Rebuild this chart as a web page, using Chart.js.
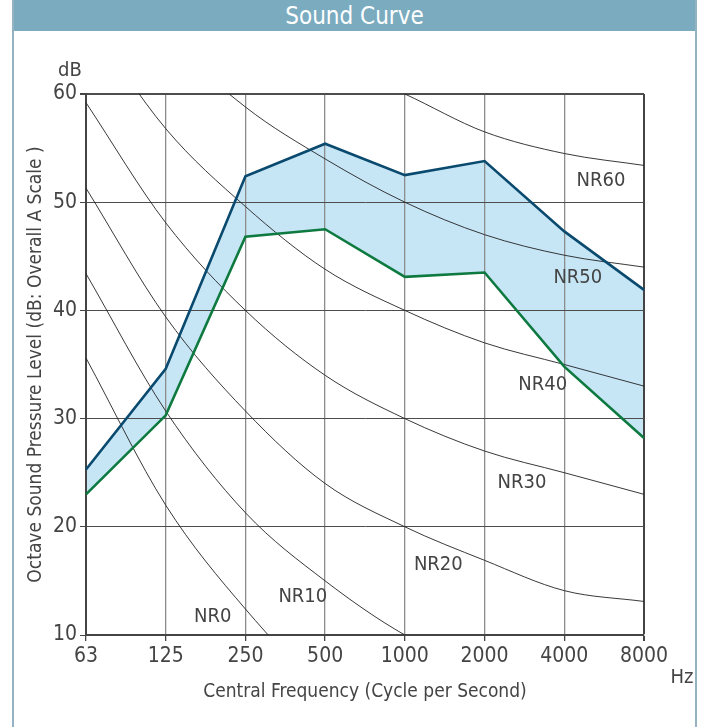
<!DOCTYPE html>
<html>
<head>
<meta charset="utf-8">
<title>Sound Curve</title>
<script src="https://cdn.jsdelivr.net/npm/chart.js@4/dist/chart.umd.min.js"></script>
<style>
  html, body { margin: 0; padding: 0; background: #fff; }
  body { width: 701px; height: 727px; position: relative; overflow: hidden;
         font-family: "Liberation Sans Narrow", "DejaVu Sans Condensed", sans-serif; }
  #frame { position: absolute; left: 12px; top: 0; width: 681px; height: 727px;
           border-left: 2px solid #93b3c2; border-right: 2px solid #93b3c2; }
  #bar { height: 31px; background: #7aabbf; color: #fff; text-align: center;
         font-size: 24px; line-height: 32px; }
  #wrap { position: absolute; left: 0; top: 0; width: 701px; height: 727px; }
</style>
</head>
<body>
<div id="frame"><div id="bar">Sound Curve</div></div>
<div id="wrap"><canvas id="soundChart" width="701" height="727"></canvas></div>
<script>
"use strict";
const FONT = '"Liberation Sans Narrow", "DejaVu Sans Condensed", sans-serif';

// frequencies (Hz) and dB ticks
const freqs = ['63', '125', '250', '500', '1000', '2000', '4000', '8000'];
const dbTicks = [10, 20, 30, 40, 50, 60];

// measured band
const upper = [25.3, 34.6, 52.4, 55.4, 52.5, 53.8, 47.3, 41.9];
const lower = [23.0, 30.3, 46.8, 47.5, 43.1, 43.5, 34.8, 28.2];

// NR reference curves
const nr0  = [35.6, 22.0, 12.4, 4.8, 0.0, -3.5, -6.1, -8.0];
const nr10 = [43.4, 30.7, 21.3, 15.0, 10.0, 6.6, 4.2, 2.2];
const nr20 = [51.3, 39.4, 30.7, 24.0, 20.0, 16.9, 14.1, 13.1];
const nr30 = [59.2, 48.1, 40.0, 34.0, 30.0, 27.0, 25.0, 23.0];
const nr40 = [67.1, 56.8, 49.6, 43.8, 40.0, 37.0, 35.0, 33.0];
const nr50 = [75.0, 65.5, 58.8, 54.0, 50.0, 47.0, 45.1, 44.0];
const nr60 = [83.0, 74.2, 68.1, 63.2, 60.0, 56.5, 54.5, 53.4];
const nrCurves = [nr0, nr10, nr20, nr30, nr40, nr50, nr60];
const nrNames = ['NR0', 'NR10', 'NR20', 'NR30', 'NR40', 'NR50', 'NR60'];
// where each NR name sits (category index, dB)
const nrLabelIdx = [1.59, 2.72, 4.42, 5.47, 5.73, 6.17, 6.46];
const nrLabelDb  = [11.7, 13.5, 16.5, 24.1, 33.1, 43.0, 52.0];

const labelPlugin = {
    id: 'nrLabels',
    afterDatasetsDraw(chart) {
        const { ctx, chartArea, scales: { x, y } } = chart;
        ctx.save();
        ctx.fillStyle = '#444';
        ctx.textAlign = 'center';
        ctx.textBaseline = 'middle';
        ctx.font = '20px ' + FONT;
        nrNames.forEach((name, i) => {
            ctx.fillText(name, x.getPixelForValue(nrLabelIdx[i]), y.getPixelForValue(nrLabelDb[i]));
        });
        ctx.fillText('dB', chartArea.left - 16, chartArea.top - 23);
        ctx.fillText('Hz', chartArea.right + 38, chartArea.bottom + 43);
        ctx.restore();
    }
};

const datasets = [
    {
        data: upper, borderColor: '#0b4a6f', borderWidth: 2.6, pointRadius: 0,
        fill: '+1', backgroundColor: '#c6e6f6', tension: 0
    },
    {
        data: lower, borderColor: '#0e7a40', borderWidth: 2.6, pointRadius: 0,
        fill: false, tension: 0
    }
];
nrCurves.forEach(curve => {
    datasets.push({
        data: curve, borderColor: '#222', borderWidth: 0.9, pointRadius: 0,
        fill: false, cubicInterpolationMode: 'monotone'
    });
});

const ctx = document.getElementById('soundChart').getContext('2d');
new Chart(ctx, {
    type: 'line',
    data: { labels: freqs, datasets: datasets },
    options: {
        responsive: false,
        animation: false,
        layout: { padding: { left: 25, right: 57, top: 94, bottom: 24 } },
        plugins: {
            legend: { display: false },
            tooltip: { enabled: false },
            filler: { drawTime: 'beforeDraw' }
        },
        scales: {
            x: {
                grid: {
                    color: c => (c.index === freqs.length - 1 ? '#444' : '#8c8c8c'),
                    lineWidth: c => (c.index === freqs.length - 1 ? 2 : 1.3),
                    tickColor: '#444', tickLength: 6
                },
                border: { color: '#444', width: 2 },
                ticks: { color: '#444', font: { family: FONT, size: 21 }, padding: 3, maxRotation: 0 },
                title: {
                    display: true, text: 'Central Frequency (Cycle per Second)',
                    color: '#444', font: { family: FONT, size: 19 }, padding: 0
                },
                afterFit: s => { s.height = 68; }
            },
            y: {
                min: 10, max: 60,
                afterBuildTicks: s => { s.ticks = dbTicks.map(v => ({ value: v })); },
                grid: {
                    color: '#4d4d4d',
                    lineWidth: c => (c.tick && c.tick.value === 60 ? 2 : 1),
                    tickColor: '#444', tickLength: 6
                },
                border: { color: '#444', width: 2 },
                ticks: { color: '#444', font: { family: FONT, size: 21 }, padding: 3 },
                title: {
                    display: true, text: 'Octave Sound Pressure Level (dB: Overall A Scale )',
                    color: '#444', font: { family: FONT, size: 19 }, padding: 0
                },
                afterFit: s => { s.width = 61; }
            }
        }
    },
    plugins: [labelPlugin]
});
</script>
</body>
</html>
